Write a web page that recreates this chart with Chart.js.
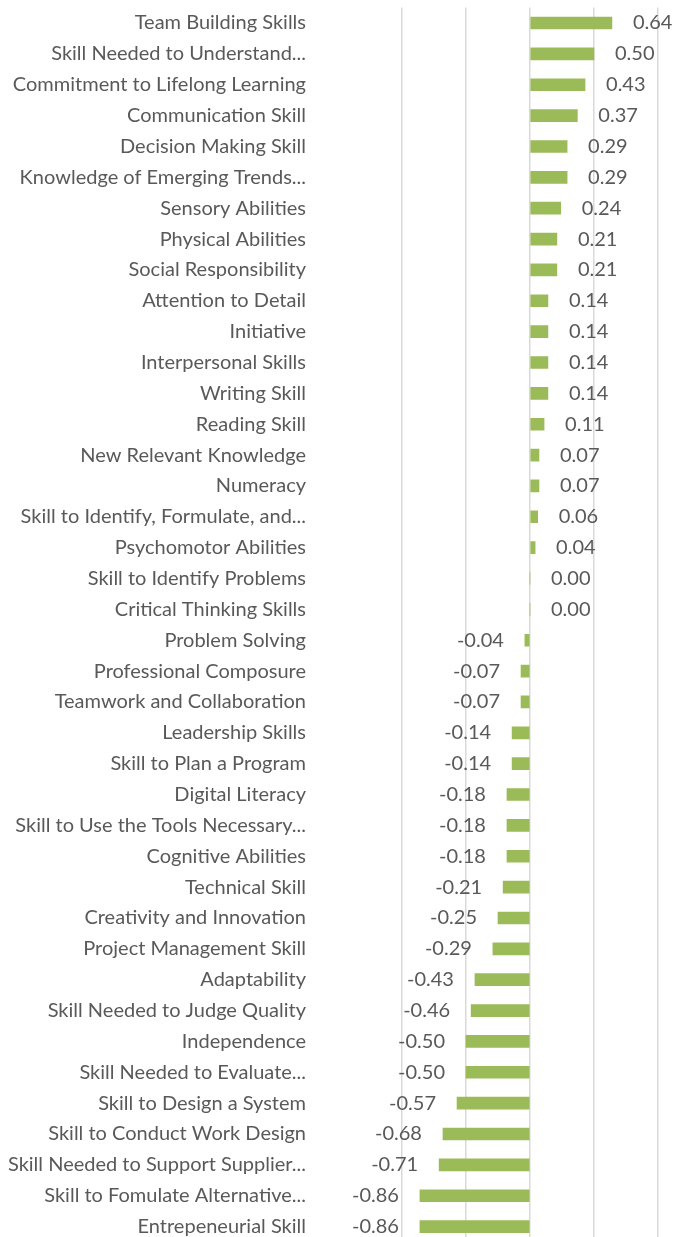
<!DOCTYPE html>
<html>
<head>
<meta charset="utf-8">
<script src="https://cdn.jsdelivr.net/npm/chart.js@4"></script>
<style>
  html, body { margin: 0; padding: 0; background: #fff; overflow: hidden; }
  canvas { display: block; }
</style>
</head>
<body>
<canvas id="myChart" width="674" height="1242"></canvas>
<script>
const skills = [
  "Team Building Skills",
  "Skill Needed to Understand...",
  "Commitment to Lifelong Learning",
  "Communication Skill",
  "Decision Making Skill",
  "Knowledge of Emerging Trends...",
  "Sensory Abilities",
  "Physical Abilities",
  "Social Responsibility",
  "Attention to Detail",
  "Initiative",
  "Interpersonal Skills",
  "Writing Skill",
  "Reading Skill",
  "New Relevant Knowledge",
  "Numeracy",
  "Skill to Identify, Formulate, and...",
  "Psychomotor Abilities",
  "Skill to Identify Problems",
  "Critical Thinking Skills",
  "Problem Solving",
  "Professional Composure",
  "Teamwork and Collaboration",
  "Leadership Skills",
  "Skill to Plan a Program",
  "Digital Literacy",
  "Skill to Use the Tools Necessary...",
  "Cognitive Abilities",
  "Technical Skill",
  "Creativity and Innovation",
  "Project Management Skill",
  "Adaptability",
  "Skill Needed to Judge Quality",
  "Independence",
  "Skill Needed to Evaluate...",
  "Skill to Design a System",
  "Skill to Conduct Work Design",
  "Skill Needed to Support Supplier...",
  "Skill to Fomulate Alternative...",
  "Entrepeneurial Skill"
];

const scores = [
  0.64, 0.50, 0.43, 0.37, 0.29, 0.29, 0.24, 0.21, 0.21, 0.14,
  0.14, 0.14, 0.14, 0.11, 0.07, 0.07, 0.06, 0.04, 0.00, 0.00,
  -0.04, -0.07, -0.07, -0.14, -0.14, -0.18, -0.18, -0.18, -0.21, -0.25,
  -0.29, -0.43, -0.46, -0.50, -0.50, -0.57, -0.68, -0.71, -0.86, -0.86
];

const xMin = -1;
const xMax = 1;
const xStep = 0.5;

const textColor = "#595959";
const fontFamily = "Lato, 'Open Sans', sans-serif";

// value labels drawn at the outer end of each bar
const valueLabels = {
  id: "valueLabels",
  afterDatasetsDraw(chart) {
    const ctx = chart.ctx;
    const meta = chart.getDatasetMeta(0);
    const xScale = chart.scales.x;
    ctx.save();
    ctx.font = "20px " + fontFamily;
    ctx.fillStyle = textColor;
    ctx.textBaseline = "middle";
    meta.data.forEach((bar, i) => {
      const v = scores[i];
      const end = xScale.getPixelForValue(v);
      if (v < 0) {
        ctx.textAlign = "right";
        ctx.fillText(v.toFixed(2), end - 21, bar.y);
      } else {
        ctx.textAlign = "left";
        ctx.fillText(v.toFixed(2), end + 21, bar.y);
      }
    });
    ctx.restore();
  },
};

const ctx = document.getElementById("myChart").getContext("2d");
const myChart = new Chart(ctx, {
  type: "bar",
  data: {
    labels: skills,
    datasets: [
      {
        data: scores,
        backgroundColor: "#9bbb59",
        borderWidth: 0,
        barThickness: 12,
      },
    ],
  },
  options: {
    indexAxis: "y",
    responsive: false,
    animation: false,
    devicePixelRatio: 1,
    layout: {
      padding: { top: 7.6, right: 16, bottom: 0, left: 0 },
    },
    scales: {
      x: {
        min: xMin,
        max: xMax,
        ticks: { stepSize: xStep, display: false },
        grid: {
          color: "#d9d9d9",
          lineWidth: 1.5,
          drawTicks: false,
        },
        border: { display: false },
        afterFit(scale) {
          scale.height = 0;
        },
      },
      y: {
        grid: { display: false, drawTicks: false },
        border: { display: false },
        ticks: {
          color: textColor,
          font: { family: fontFamily, size: 20 },
          padding: 96,
          autoSkip: false,
        },
        afterFit(scale) {
          scale.width = 402;
          scale.paddingTop = 0;
          scale.paddingBottom = 0;
        },
      },
    },
    plugins: {
      legend: { display: false },
      tooltip: { enabled: false },
    },
  },
  plugins: [valueLabels],
});
</script>
</body>
</html>
